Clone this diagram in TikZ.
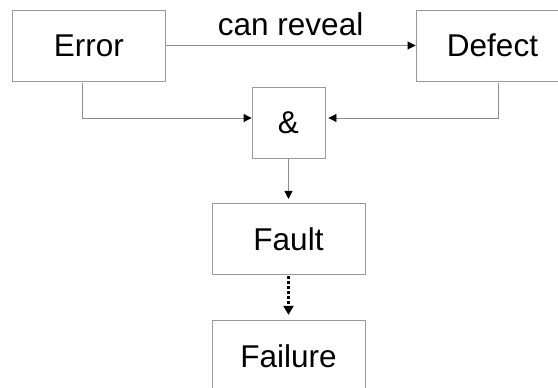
\documentclass[tikz,border=0pt]{standalone}
\usepackage{fontspec}
\setmainfont{Liberation Sans}
\usetikzlibrary{arrows.meta}
\usetikzlibrary{positioning}
\tikzset{block/.style={rectangle,draw=black!40,line width=0.9pt,inner sep=0pt,
minimum width=153pt,minimum height=71pt,font=\fontsize{31.5}{32}\selectfont},
gate/.style={block,minimum width=73pt},
lbl/.style={inner sep=0pt,font=\fontsize{31.5}{32}\selectfont},
link/.style={draw=black!45,line width=0.9pt},
maybe/.style={draw=black,line width=2.2pt,dash pattern=on 3pt off 2pt,
>={Triangle[length=9pt,width=10pt,color=black]}},
>={Triangle[length=8pt,width=8pt,color=black]}}

\begin{document}
\begin{tikzpicture}[x=1pt,y=-1pt]
  \useasboundingbox (0,0) rectangle (558,388);
  \clip (0,0) rectangle (558,388);

  \node (error) [block] at (88.8,45.5) {Error};
  \node (defect) [block] at (492.5,45.5) {Defect};
  \node (and) [gate] at (288.5,122.5) {\&};
  \node (fault) [block,below=45pt of and] {Fault};
  \node (failure) [block,below=45pt of fault] {Failure};

  \draw [link,->] (error) -- (defect) node [lbl,midway,above=9pt] {can reveal};
  \draw [link,->,shorten <=1.5pt] ([xshift=-6.8pt]error.south) |- ([yshift=4.5pt]and.west);
  \draw [link,->,shorten <=1.5pt,shorten >=3pt] ([xshift=5.5pt]defect.south) |- ([yshift=4.5pt]and.east);
  \draw [link,->,shorten >=4.5pt] (and) -- (fault);
  \draw [maybe,->,shorten <=1pt,shorten >=5.5pt] (fault) -- (failure);
\end{tikzpicture}
\end{document}
